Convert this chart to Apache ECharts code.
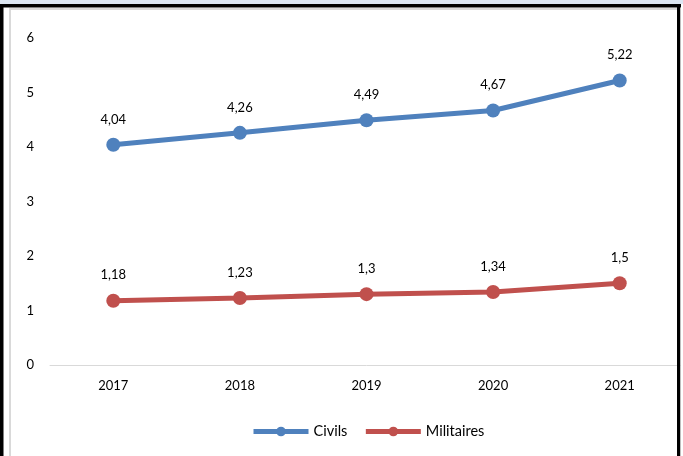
<!DOCTYPE html>
<html><head><meta charset="utf-8">
<script src="https://cdn.jsdelivr.net/npm/echarts@6/dist/echarts.min.js"></script>
<style>html,body{margin:0;padding:0;background:#fff}#c{width:683px;height:456px}</style>
</head><body><div id="c"></div>
<script>
const years = ['2017','2018','2019','2020','2021'];
const civils = [4.04, 4.26, 4.49, 4.67, 5.22];
const militaires = [1.18, 1.23, 1.3, 1.34, 1.5];
const yTicks = [0, 1, 2, 3, 4, 5, 6];

const FONT = 'Lato, "Open Sans", sans-serif';
const fmt = p => String(p.value).replace('.', ',');
const chart = echarts.init(document.getElementById('c'), null, {renderer: 'canvas'});
chart.setOption({
  animation: false,
  backgroundColor: '#fff',
  textStyle: {fontFamily: FONT},
  grid: {left: 50, top: 38, width: 635, height: 327, containLabel: false},
  xAxis: {
    type: 'category', data: years, boundaryGap: true,
    axisLine: {lineStyle: {color: '#d9d9d9', width: 1}},
    axisTick: {show: false},
    axisLabel: {color: '#000', fontSize: 13, margin: 14, fontFamily: FONT}
  },
  yAxis: {
    type: 'value', min: yTicks[0], max: yTicks[yTicks.length - 1], interval: 1,
    axisLine: {show: false}, axisTick: {show: false},
    splitLine: {show: false},
    axisLabel: {color: '#000', fontSize: 13, margin: 16, fontFamily: FONT}
  },
  legend: {
    top: 419, left: 246, itemWidth: 55, itemHeight: 12, itemGap: 16,
    lineStyle: {width: 5},
    textStyle: {color: '#000', fontSize: 14.5, fontFamily: FONT, padding: [0, 0, 0, 0]},
    data: ['Civils', 'Militaires']
  },
  series: [
    {name: 'Civils', type: 'line', data: civils, symbol: 'circle', symbolSize: 14,
     itemStyle: {color: '#4F81BD'}, lineStyle: {width: 5, color: '#4F81BD'},
     label: {show: true, position: 'top', distance: 12, color: '#000', fontSize: 13, fontFamily: FONT, formatter: fmt}},
    {name: 'Militaires', type: 'line', data: militaires, symbol: 'circle', symbolSize: 14,
     itemStyle: {color: '#C0504D'}, lineStyle: {width: 5, color: '#C0504D'},
     label: {show: true, position: 'top', distance: 12, color: '#000', fontSize: 13, fontFamily: FONT, formatter: fmt}}
  ],
  graphic: [
    {type: 'rect', z: 100, shape: {x: 0, y: 0, width: 683, height: 4}, style: {fill: '#dce6f2'}},
    {type: 'rect', z: 100, shape: {x: 0, y: 4, width: 681, height: 3.5}, style: {fill: '#000'}},
    {type: 'rect', z: 100, shape: {x: 0, y: 4, width: 3.5, height: 452}, style: {fill: '#000'}},
    {type: 'rect', z: 100, shape: {x: 677, y: 4, width: 3.5, height: 452}, style: {fill: '#000'}},
    {type: 'rect', z: 100, shape: {x: 680.5, y: 7.5, width: 3, height: 449}, style: {fill: '#fff'}},
    {type: 'rect', z: 100, shape: {x: 9, y: 8, width: 668, height: 2}, style: {fill: '#d9d9d9'}},
    {type: 'rect', z: 100, shape: {x: 9, y: 8, width: 2, height: 448}, style: {fill: '#d9d9d9'}}
  ]
});
</script></body></html>
